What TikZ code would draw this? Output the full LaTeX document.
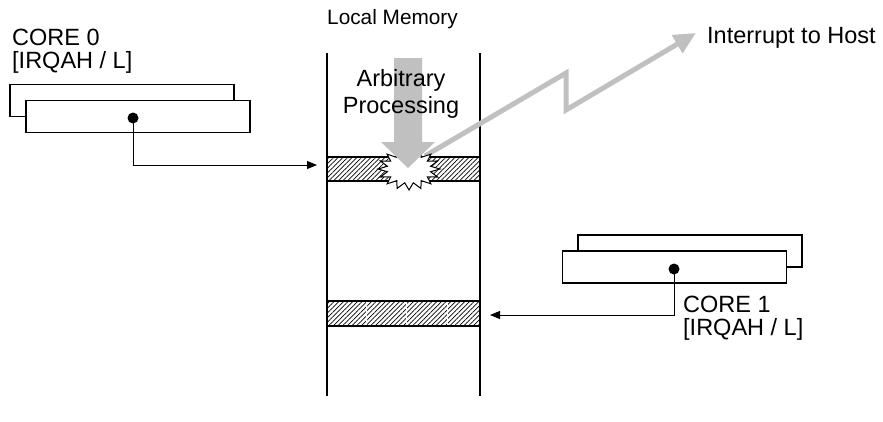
\documentclass[tikz,border=0pt]{standalone}
\usepackage{fontspec}
\setmainfont{Liberation Sans}
\usetikzlibrary{arrows.meta,patterns.meta}
\definecolor{arrgray}{HTML}{C0C0C0}
\begin{document}
\begin{tikzpicture}[x=1pt,y=-1pt,
  box/.style={draw,line width=1.4pt,fill=white,minimum width=224pt,minimum height=32pt,inner sep=0pt,outer sep=0pt},
  band/.style={draw,line width=1.4pt,minimum width=153pt,inner sep=0pt,outer sep=0pt,
    pattern={Lines[angle=45,distance=3.3pt,line width=0.7pt]}},
  dotst/.style={circle,fill=black,minimum size=11pt,inner sep=0pt},
  conn/.style={line width=0.9pt,-{Triangle[length=10pt,width=8pt]}},
  memline/.style={line width=2pt},
  big/.style={font=\fontsize{23.5}{23.3}\selectfont,inner sep=0pt,align=left},
  memlabel/.style={font=\fontsize{20.8}{22}\selectfont,inner sep=0pt},
  irq/.style={draw=arrgray,line width=5pt,-{Triangle[length=22pt,width=20pt]}}
]
\useasboundingbox (0,0) rectangle (883,421);
% memory
\draw[memline] (327,53) coordinate (mlt) -- (327,396) coordinate (mlb);
\draw[memline] (480,53) coordinate (mrt) -- (480,396) coordinate (mrb);
\node[band,minimum height=24pt] (band1) at (403.5,169) {};
\node[band,minimum height=25pt] (band2) at (403.5,313.5) {};
\foreach \xx in {366,406,447}
  \draw[white,line width=0.8pt] (\xx,302) -- (\xx,325);
\node[memlabel,anchor=base west] (lm) at (327,24) {Local Memory};
% interrupt arrow
\coordinate (irqs) at (425,156);
\coordinate (z1) at (566,73);
\coordinate (z2) at (566,110);
\coordinate (host) at (696,33);
\draw[irq] (irqs) -- (z1) -- (z2) -- (host);
% star
\draw[fill=white,line width=1pt,shift={(409,169)}]
  plot[samples at={0,11.25,...,348.75},variable=\t]
  ({cos(\t)*(31-9*mod(round(\t/11.25),2))},{sin(\t)*(21-7*mod(round(\t/11.25),2))}) -- cycle;
% down arrow
\fill[arrgray] (394,58) -- (422,58) -- (422,142) -- (435,142) -- (408,168) -- (381,142) -- (394,142) -- cycle;
\node[big,align=center,anchor=base,font=\fontsize{23.5}{26.6}\selectfont] (ap) at (401,113.3) {Arbitrary\\Processing};
\node[big,anchor=base west] (hostlbl) at (707,43) {Interrupt to Host};
% core 0
\node[big,anchor=base west] (c0lbl) at (12,68.5) {CORE 0\\{}[IRQAH / L]};
\node[box] (c0back) at (122,100.5) {};
\node[box] (c0front) at (138,116.5) {};
\node[dotst] (dot0) at (133,118) {};
\coordinate (in0) at (317,165);
\draw[conn] (dot0.center) |- (in0);
% core 1
\node[box] (c1back) at (690,251) {};
\node[box] (c1front) at (674.5,267) {};
\node[dotst] (dot1) at (674,269) {};
\coordinate (in1) at (490,315);
\draw[conn] (dot1.center) |- (in1);
\node[big,anchor=base west] (c1lbl) at (683,335.5) {CORE 1\\{}[IRQAH / L]};
\end{tikzpicture}
\end{document}
